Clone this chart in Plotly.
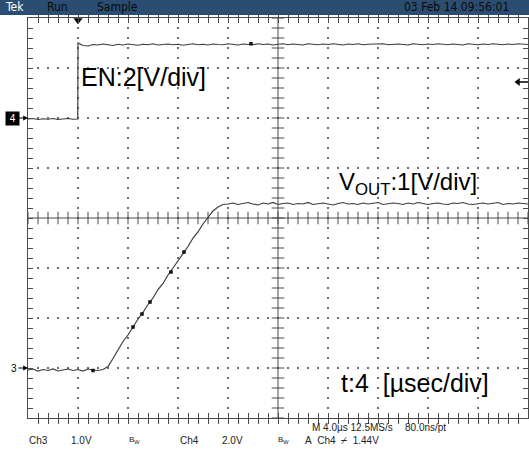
import numpy as np
import plotly.graph_objects as go

# ---------------- data (time in µs relative to trigger, volts) ----------------
EN_T = [round(-4.0 + 0.4 * i, 2) for i in range(10)] + [-0.02] + [round(0.4 * i, 2) for i in range(91)]
EN_V = [-0.04, -0.02, -0.06, -0.03, -0.05, -0.02, -0.06, -0.03, -0.02, -0.05,
        -0.04,
        3.00, 2.90, 2.88, 2.94, 2.92, 2.96, 2.93, 2.90, 2.95, 2.92,
        2.96, 2.94, 2.91, 2.95, 2.93, 2.97, 2.92, 2.94, 2.96, 2.93,
        2.95, 2.91, 2.94, 2.97, 2.93, 2.95, 2.92, 2.96, 2.94, 2.93,
        2.97, 2.94, 2.92, 2.96, 2.95, 2.93, 2.97, 2.94, 2.96, 2.92,
        2.95, 2.97, 2.93, 2.96, 2.94, 2.92, 2.97, 2.95, 2.93, 2.96,
        2.94, 2.97, 2.95, 2.92, 2.96, 2.94, 2.97, 2.93, 2.95, 2.96,
        2.94, 2.97, 2.93, 2.95, 2.96, 2.94, 2.92, 2.97, 2.95, 2.93,
        2.96, 2.94, 2.97, 2.95, 2.93, 2.96, 2.94, 2.92, 2.97, 2.95,
        2.93, 2.96, 2.94, 2.97, 2.95, 2.93, 2.96, 2.94, 2.97, 2.95,
        2.94]

VOUT_T = [round(-4.0 + 0.4 * i, 2) for i in range(101)]
VOUT_V = [-0.04, -0.02, -0.06, -0.03, -0.05, -0.02, -0.06, -0.04, -0.02, -0.05,
          -0.03, -0.06, -0.02, -0.04, -0.05, -0.03,
          0.03, 0.19, 0.36, 0.53, 0.66, 0.82, 0.98, 1.11, 1.27, 1.40,
          1.57, 1.69, 1.86, 2.00, 2.14, 2.30, 2.43, 2.60, 2.72, 2.88,
          3.01, 3.14, 3.22, 3.27,
          3.28, 3.30, 3.27, 3.29, 3.31, 3.28, 3.26, 3.30, 3.28, 3.31,
          3.27, 3.29, 3.30, 3.27, 3.29, 3.28, 3.31, 3.27, 3.29, 3.30,
          3.28, 3.26, 3.29, 3.31, 3.28, 3.29, 3.27, 3.30, 3.28, 3.29,
          3.31, 3.27, 3.28, 3.30, 3.29, 3.27, 3.30, 3.28, 3.31, 3.29,
          3.27, 3.29, 3.30, 3.28, 3.27, 3.30, 3.29, 3.31, 3.28, 3.27,
          3.29, 3.30, 3.28, 3.29, 3.31, 3.27, 3.29, 3.28, 3.30, 3.29,
          3.28]

# highlighted sample points
VOUT_DOT_T = [1.2, 4.4, 5.12, 5.76, 7.44, 8.48]
VOUT_DOT_V = [-0.05, 0.82, 1.08, 1.32, 1.92, 2.32]
EN_DOT_T = [13.84]
EN_DOT_V = [2.97]

TRIG_T = 0.0
TRIG_LEVEL = 1.44

# ---------------- scope geometry ----------------
X_RANGE = [-4, 36]      # 4 µs/div, 10 div
Y3_RANGE = [-1, 7]      # Ch3 1 V/div, 8 div
Y4_RANGE = [-12, 4]     # Ch4 2 V/div, 8 div
XC, YC = 16, 3

L, R, T, B = 28, 1, 18, 32
W, H = 529, 450
PW, PH = W - L - R, H - T - B


def px(xp):
    return (xp - L) / PW


def py(yp):
    return (H - B - yp) / PH


TRACE = "#3c3c3c"
GRID = "#6e6e6e"
FRAME = "#4a4a4a"

fig = go.Figure()

# dotted graticule
gx, gy = [], []
for xv in [0, 4, 8, 12, 20, 24, 28, 32]:
    for yv in np.arange(-0.8, 7.0, 0.2):
        gx.append(xv); gy.append(yv)
for yv in [0, 1, 2, 4, 5, 6]:
    for xv in np.arange(-3.2, 36.0, 0.8):
        gx.append(xv); gy.append(yv)
fig.add_trace(go.Scatter(x=gx, y=gy, mode="markers", hoverinfo="skip",
                         marker=dict(symbol="square", size=2, color=GRID, line=dict(width=0))))

# centre cross ticks
cx = np.arange(-4, 36.01, 0.8)
fig.add_trace(go.Scatter(x=cx, y=[YC] * len(cx), mode="markers", hoverinfo="skip",
                         marker=dict(symbol="line-ns", size=9, line=dict(width=1, color=FRAME))))
cy = np.arange(-1, 7.01, 0.2)
fig.add_trace(go.Scatter(x=[XC] * len(cy), y=cy, mode="markers", hoverinfo="skip",
                         marker=dict(symbol="line-ew", size=9, line=dict(width=1, color=FRAME))))

# waveforms
fig.add_trace(go.Scatter(x=VOUT_T, y=VOUT_V, mode="lines", yaxis="y",
                         line=dict(color=TRACE, width=1.2), hoverinfo="skip"))
fig.add_trace(go.Scatter(x=EN_T, y=EN_V, mode="lines", yaxis="y2",
                         line=dict(color=TRACE, width=1.2, shape="linear"), hoverinfo="skip"))
fig.add_trace(go.Scatter(x=VOUT_DOT_T, y=VOUT_DOT_V, mode="markers", yaxis="y",
                         marker=dict(symbol="square", size=3.5, color="#111"), hoverinfo="skip"))
fig.add_trace(go.Scatter(x=EN_DOT_T, y=EN_DOT_V, mode="markers", yaxis="y2",
                         marker=dict(symbol="square", size=3.5, color="#111"), hoverinfo="skip"))

# trigger position marker
fig.add_trace(go.Scatter(x=[TRIG_T], y=[6.955], mode="markers", cliponaxis=False,
                         marker=dict(symbol="triangle-down", size=8, color="#000"), hoverinfo="skip"))

# trigger level marker (right edge)
fig.add_trace(go.Scatter(x=[35.2], y=[TRIG_LEVEL], yaxis="y2", mode="markers", cliponaxis=False,
                         marker=dict(symbol="triangle-left", size=7, color="#000"), hoverinfo="skip"))

shapes = [
    dict(type="rect", xref="paper", yref="paper", x0=px(-2), x1=px(W + 2), y0=py(15), y1=py(-2),
         fillcolor="#2b4d71", line=dict(width=0), layer="above"),
    dict(type="line", xref="x", yref="paper", x0=XC, x1=XC, y0=0, y1=1, line=dict(color=FRAME, width=1)),
    dict(type="line", xref="paper", yref="y", x0=0, x1=1, y0=YC, y1=YC, line=dict(color=FRAME, width=1)),
    # stem of the trigger-level arrow
    dict(type="line", xref="x", yref="y2", x0=35.3, x1=36, y0=TRIG_LEVEL, y1=TRIG_LEVEL,
         line=dict(color="#000", width=1.5)),
]

HFONT = "Liberation Sans Narrow, DejaVu Sans Condensed, Arial Narrow, sans-serif"
BFONT = "Liberation Sans, Arial, sans-serif"
ann = []


def text(x, y, s, size, color="#000", family=BFONT, xanchor="left"):
    ann.append(dict(x=x, y=y, xref="paper", yref="paper", text=s, showarrow=False,
                    xanchor=xanchor, yanchor="middle", font=dict(size=size, color=color, family=family)))


# header
text(px(3), py(7.5), "Tek", 12, "#ffffff", HFONT)
text(px(45), py(7.5), "Run", 12, "#0a0a0a", HFONT)
text(px(95), py(7.5), "Sample", 12, "#0a0a0a", HFONT)
text(px(402), py(7.5), "03 Feb 14 09:56:01", 12, "#0a0a0a", HFONT)

# big labels
text(px(79), py(77), "EN:2[V/div]", 25)
text(px(337), py(183), "V<sub>OUT</sub>:1[V/div]", 24)
text(px(339), py(383), "t:4\u00a0\u00a0[µsec/div]", 25)

# bottom status
SF = 10
text(px(27), py(440), "Ch3", SF, "#222")
text(px(69), py(440), "1.0V", SF, "#222")
text(px(127), py(440), "B<sub>W</sub>", 8, "#222")
text(px(178), py(440), "Ch4", SF, "#222")
text(px(220), py(440), "2.0V", SF, "#222")
text(px(276), py(440), "B<sub>W</sub>", 8, "#222")
text(px(303), py(440), "A\u00a0 Ch4\u00a0 ⌿\u00a0 1.44V", SF, "#222")
text(px(310), py(428), "M 4.0µs 12.5MS/s", SF, "#222")
text(px(403), py(428), "80.0ns/pt", SF, "#222")

# channel ground markers
ann.append(dict(x=0, xref="paper", y=0, yref="y2", text=" 4 ", showarrow=True, ax=-16, ay=0,
                arrowhead=2, arrowsize=0.8, arrowwidth=1.2, arrowcolor="#000", standoff=0, startstandoff=0,
                bgcolor="#000", borderpad=1, font=dict(size=10, color="#fff", family=BFONT)))
ann.append(dict(x=0, xref="paper", y=0, yref="y", text="3", showarrow=True, ax=-14, ay=0,
                arrowhead=2, arrowsize=0.8, arrowwidth=1.2, arrowcolor="#000", standoff=0,
                font=dict(size=10, color="#000", family=BFONT)))

fig.update_layout(
    width=W, height=H, margin=dict(l=L, r=R, t=T, b=B),
    paper_bgcolor="#ffffff", plot_bgcolor="#ffffff", showlegend=False,
    shapes=shapes, annotations=ann,
    xaxis=dict(range=X_RANGE, showgrid=False, zeroline=False, showticklabels=False,
               showline=True, linecolor=FRAME, linewidth=1, mirror="allticks",
               ticks="inside", tickvals=list(np.arange(-4, 36.01, 0.8)), ticklen=5,
               tickcolor=FRAME, tickwidth=1, fixedrange=True),
    yaxis=dict(range=Y3_RANGE, showgrid=False, zeroline=False, showticklabels=False,
               showline=True, linecolor=FRAME, linewidth=1, mirror="allticks",
               ticks="inside", tickvals=list(np.arange(-1, 7.01, 0.2)), ticklen=5,
               tickcolor=FRAME, tickwidth=1, fixedrange=True),
    yaxis2=dict(range=Y4_RANGE, overlaying="y", showgrid=False, zeroline=False,
                showticklabels=False, showline=False, ticks="", fixedrange=True),
)

fig.write_html("out.html", config={"displayModeBar": False},
               post_script="document.body.style.margin='0px';")
